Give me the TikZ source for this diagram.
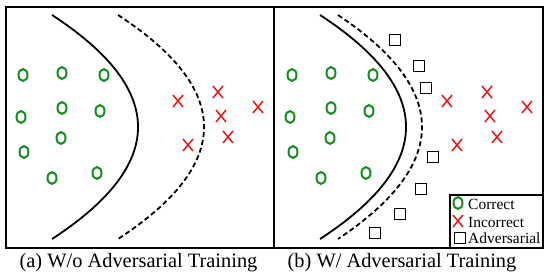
\documentclass[tikz,border=0pt]{standalone}
\usepackage{fontspec}
\setmainfont{Liberation Serif}

\definecolor{okgreen}{RGB}{20,140,30}
\definecolor{badred}{RGB}{235,20,20}
\tikzset{
  correct/.pic={\draw[okgreen, line width=2pt] (0,0) ellipse (4.5pt and 5.9pt);},
  incorrect/.pic={\draw[badred, line width=1.5pt] (-5pt,-6pt) -- (5pt,6pt) (-5pt,6pt) -- (5pt,-6pt);},
  adversarial/.pic={\draw[line width=1.3pt] (-5.6pt,-5.6pt) rectangle (5.6pt,5.6pt);},
  boundary/.style={line width=1.8pt},
  margin/.style={line width=1.8pt, dash pattern=on 5pt off 3pt},
  legendtext/.style={anchor=base west, inner sep=0pt, font=\fontsize{15.5}{18}\selectfont},
  caption/.style={anchor=base, inner sep=0pt, font=\fontsize{20.4}{24}\selectfont}
}

\begin{document}
\begin{tikzpicture}[x=1pt, y=-1pt]
  \useasboundingbox (0,0) rectangle (550,276);
  % 右图相对左图的平移量
  \pgfmathsetmacro{\d}{269}

  % 两个面板的边框
  \draw[line width=1.4pt] (6,7) rectangle (274,248);
  \draw[line width=1.4pt] (274,7) rectangle (543,248);

  % 左图：决策边界与间隔（抛物线，顶点在 y=127）
  \draw[boundary] (52,15) .. controls (166.7,89.7) and (166.7,164.3) .. (52,239);
  \draw[margin] (118,15) .. controls (232.7,89.7) and (232.7,164.3) .. (118,239);
  % 右图：间隔贴近边界
  \draw[boundary] (320,15) .. controls (434.7,89.7) and (434.7,164.3) .. (320,239);
  \draw[margin] (338,15) .. controls (450,89.7) and (450,164.3) .. (338,239);

  % 正确样本 O，两图位置相同
  \foreach \x/\y in {23/75, 62/73, 104/75, 21/117, 62/108, 100/111,
                     61/138, 24/152, 52/178, 97/173} {
    \pic at (\x,\y) {correct};
    \pic at (\x+\d,\y) {correct};
  }
  % 错误样本 X
  \foreach \x/\y in {178/101, 218/92, 258/107, 221/116, 228/137, 188/145} {
    \pic at (\x,\y) {incorrect};
    \pic at (\x+\d,\y) {incorrect};
  }
  % 对抗样本，只在右图
  \foreach \x/\y in {395/40, 419/66, 426/88, 433/157, 421/189, 400/214, 375/233} {
    \pic at (\x,\y) {adversarial};
  }

  % 图例
  \draw[line width=1.2pt] (450,195) rectangle (543,248);
  \pic at (458,203) {correct};
  \pic at (458,221) {incorrect};
  \pic at (460,238) {adversarial};
  \node[legendtext] (lgcorrect)   at (468,209) {Correct};
  \node[legendtext] (lgincorrect) at (468,227) {Incorrect};
  \node[legendtext] (lgadv)       at (468,243.5) {Adversarial};

  % 子图标题
  \node[caption] (capa) at (138.5,267) {(a) W/o Adversarial Training};
  \node[caption] (capb) at (402,267) {(b) W/ Adversarial Training};
\end{tikzpicture}
\end{document}
